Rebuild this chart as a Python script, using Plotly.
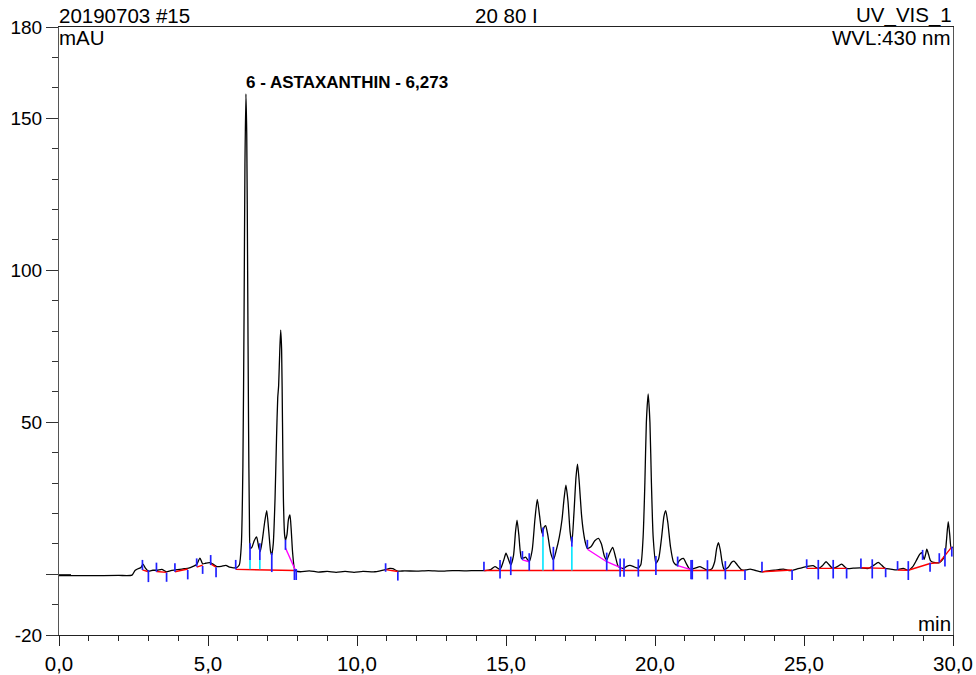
import plotly.graph_objects as go

# ---- chromatogram signal (min, mAU) ----
time_min = [0.0, 1.0, 2.0, 2.45, 2.55, 2.65, 2.75, 2.82, 2.90, 3.00, 3.15, 3.30, 3.45, 3.60, 3.75, 3.90,
            4.05, 4.20, 4.35, 4.50, 4.62, 4.73, 4.82, 4.92, 5.05, 5.15, 5.30, 5.45, 5.60, 5.72, 5.85, 5.95,
            6.05, 6.12, 6.17, 6.21, 6.24, 6.273, 6.30, 6.33, 6.36, 6.39, 6.42, 6.47, 6.55, 6.63, 6.70, 6.75,
            6.82, 6.90, 6.97, 7.04, 7.10, 7.14, 7.19, 7.25, 7.30, 7.34, 7.37, 7.41, 7.44, 7.47, 7.50, 7.53,
            7.57, 7.60, 7.65, 7.70, 7.75, 7.79, 7.84, 7.90, 7.96, 8.1, 8.4, 8.7, 9.0, 9.3, 9.6, 9.9, 10.2,
            10.6, 10.96, 11.1, 11.2, 11.37, 11.6, 12.0, 12.4, 12.8, 13.2, 13.6, 14.0, 14.3, 14.5, 14.63,
            14.80, 14.92, 15.00, 15.08, 15.16, 15.25, 15.32, 15.37, 15.43, 15.52, 15.60, 15.66, 15.78, 15.88,
            15.97, 16.05, 16.13, 16.21, 16.28, 16.33, 16.40, 16.50, 16.59, 16.69, 16.79, 16.88, 16.95, 17.01,
            17.08, 17.15, 17.21, 17.28, 17.35, 17.40, 17.46, 17.53, 17.59, 17.66, 17.73, 17.85, 17.98, 18.10,
            18.20, 18.30, 18.38, 18.48, 18.58, 18.68, 18.77, 18.94, 19.05, 19.16, 19.30, 19.42, 19.52, 19.60,
            19.66, 19.71, 19.77, 19.83, 19.88, 19.94, 20.03, 20.12, 20.22, 20.30, 20.36, 20.43, 20.52, 20.62,
            20.72, 20.82, 20.95, 21.05, 21.17, 21.35, 21.51, 21.73, 21.90, 22.00, 22.07, 22.13, 22.19, 22.26,
            22.32, 22.45, 22.58, 22.65, 22.75, 22.91, 23.05, 23.19, 23.35, 23.58, 23.80, 24.0, 24.15, 24.31,
            24.45, 24.59, 24.80, 25.09, 25.31, 25.48, 25.62, 25.74, 25.85, 25.96, 26.10, 26.26, 26.43, 26.65,
            26.88, 27.16, 27.35, 27.49, 27.60, 27.72, 27.90, 28.11, 28.33, 28.50, 28.65, 28.78, 28.88, 28.95,
            29.03, 29.08, 29.12, 29.18, 29.25, 29.40, 29.54, 29.65, 29.73, 29.78, 29.84, 29.89, 29.94, 30.0]
signal_mau = [-0.5, -0.5, -0.4, -0.3, 1.2, 1.8, 2.2, 3.3, 2.0, 1.0, 1.3, 1.3, 1.6, 0.8, 1.2, 1.4,
              1.6, 1.8, 2.0, 2.6, 3.2, 5.3, 3.4, 3.6, 3.8, 3.4, 2.5, 2.6, 2.9, 2.3, 2.1, 2.1,
              3.0, 10, 35, 85, 135, 158, 145, 100, 50, 18, 8.5, 8.8, 11, 12.3, 9, 7.4,
              11, 17, 20.9, 14, 7.5, 6.3, 10, 25, 45, 58, 62, 74, 80.3, 74, 50, 25,
              13, 11.2, 13, 18, 19.5, 15, 7, 1.8, 1.0, 0.8, 1.1, 0.7, 0.9, 0.6, 0.9, 0.6, 0.9,
              0.8, 1.5, 1.9, 1.8, 1.0, 1.1, 1.0, 1.2, 1.0, 1.2, 1.1, 1.2, 1.2, 1.6, 2.5,
              1.6, 4.5, 6.9, 5, 3.0, 6, 14, 17.8, 13, 5.2, 5.4, 5.6, 4.1, 8,
              18, 24.6, 19, 13.4, 15.5, 16.0, 13, 7, 4.7, 8, 12.3, 18, 25, 29.3,
              24, 14, 10.2, 20, 32, 36.2, 30, 20, 14.5, 10.5, 8.5, 9, 11, 11.8,
              10, 6, 4.7, 7, 8.8, 5.5, 2.5, 1.9, 2.6, 2.9, 2.4, 2.0, 3.0, 12,
              30, 50, 59.3, 50, 30, 12, 3.6, 5, 12, 19, 20.9, 17, 9, 4,
              3.0, 4.5, 5.2, 3.5, 1.6, 2.0, 2.5, 1.4, 1.7, 4, 8.5, 10.4, 8, 3.5,
              1.6, 2.2, 4.0, 4.3, 3.2, 1.4, 1.4, 1.7, 1.3, 0.8, 1.1, 1.3, 1.5, 1.7,
              1.3, 1.2, 1.8, 2.5, 2.8, 1.8, 2.8, 4.1, 3.0, 1.9, 2.4, 3.3, 1.9, 2.0,
              2.1, 1.9, 3.0, 3.9, 3.0, 1.9, 1.7, 1.4, 1.9, 1.3, 2.5, 4.7, 6.5, 7.1,
              4.9, 6.5, 8.2, 6.5, 4.4, 3.8, 3.8, 4.8, 6.3, 11, 17.3, 13, 8.5, 9.0]

# ---- integration baselines (red): polylines, each a list of (min, mAU) ----
baseline_red = [
    [(2.80, 1.4), (3.00, 0.8)],
    [(3.27, 0.9), (3.61, 0.6)],
    [(3.89, 0.8), (4.32, 1.7)],
    [(4.62, 2.3), (4.82, 3.0)],
    [(5.09, 3.4), (5.27, 2.3)],
    [(5.93, 1.6), (7.93, 1.2)],
    [(10.96, 1.5), (11.37, 0.9)],
    [(14.26, 1.2), (22.36, 1.2)],
    [(22.36, 1.2), (23.02, 1.2)],
    [(23.59, 0.8), (24.60, 1.4)],
    [(25.09, 1.9), (26.43, 1.9)],
    [(26.91, 2.1), (27.74, 1.9)],
    [(28.14, 1.4), (28.50, 1.3)],
    [(28.50, 1.3), (29.23, 3.5), (29.54, 3.8), (29.96, 9.0)],
]
# ---- tangent skims (magenta) ----
skim_magenta = [
    [(7.60, 8.6), (7.93, 1.4)],
    [(15.55, 4.7), (15.78, 4.1)],
    [(17.73, 8.2), (18.38, 4.1), (18.90, 1.9)],
    [(20.76, 2.8), (21.23, 1.4)],
]
# ---- perpendicular drops (cyan): time, top, bottom ----
drop_t = [6.41, 6.74, 16.24, 17.21]
drop_top = [4.7, 4.7, 12.3, 9.0]
drop_bot = [1.6, 1.6, 1.2, 1.2]
# ---- peak delimiter marks (blue): time, top, bottom ----
mark_t = [2.80, 3.00, 3.27, 3.61, 3.89, 4.32, 4.62, 4.82, 5.09, 5.27, 5.93, 6.41, 6.74, 7.14, 7.60, 7.90,
          7.96, 10.96, 11.37, 14.26, 14.80, 15.16, 15.55, 15.78, 16.24, 16.59, 17.21, 17.73, 18.38, 18.83,
          18.96, 19.44, 20.03, 20.76, 21.21, 21.25, 21.76, 22.36, 23.02, 23.59, 24.60, 25.09, 25.48, 25.98,
          26.43, 26.91, 27.29, 27.74, 28.14, 28.50, 28.98, 29.23, 29.54, 29.73, 29.96]
mark_top = [4.7, 1.4, 3.8, 0.5, 3.6, 1.4, 5.2, 2.7, 6.3, 2.3, 4.7, 10.2, 10.2, 7.0, 11.3, 1.7,
            1.7, 3.6, 0.8, 4.1, 4.7, 5.8, 7.6, 6.9, 15.4, 9.0, 12.3, 11.3, 7.1, 5.2,
            5.2, 4.9, 6.0, 5.8, 4.7, 4.7, 4.6, 4.3, 1.4, 4.1, 1.4, 4.9, 4.7, 4.7,
            1.9, 5.2, 4.9, 1.9, 4.3, 4.3, 8.0, 3.8, 6.9, 8.5, 9.0]
mark_bot = [1.4, -2.6, 0.8, -2.5, 0.8, -1.7, 2.5, 0.1, 3.0, -1.0, 1.6, 4.7, 4.7, 0.7, 8.0, -1.9,
            -1.9, 0.8, -2.1, 1.2, -1.4, -0.3, 4.7, 1.2, 12.3, 1.2, 9.0, 8.5, 1.2, -0.8,
            -0.8, -0.8, -0.3, 2.5, -1.7, -1.7, -1.7, -1.7, -1.9, 0.8, -1.9, 1.9, -1.7, -1.4,
            -1.4, 1.9, -1.4, -1.0, 1.4, -1.9, 4.7, 0.8, 3.8, 2.5, 5.8]

# ---- axes / labels ----
x_tickvals = [0, 5, 10, 15, 20, 25, 30]
x_ticktext = ["0,0", "5,0", "10,0", "15,0", "20,0", "25,0", "30,0"]
y_tickvals = [-20, 0, 50, 100, 150, 180]
y_ticktext = ["-20", "", "50", "100", "150", "180"]
peak_label = "6 - ASTAXANTHIN - 6,273"
peak_time = 6.273
peak_height = 158
header_left = "20190703 #15"
header_mid = "20 80 I"
header_right = "UV_VIS_1"
y_unit = "mAU"
wavelength = "WVL:430 nm"
x_unit = "min"

FONT = "Liberation Sans, Arial, sans-serif"


def polylines(lines):
    xs, ys = [], []
    for ln in lines:
        for (a, b) in ln:
            xs.append(a)
            ys.append(b)
        xs.append(None)
        ys.append(None)
    return xs, ys


def verticals(ts, tops, bots):
    xs, ys = [], []
    for t, a, b in zip(ts, tops, bots):
        xs += [t, t, None]
        ys += [a, b, None]
    return xs, ys


fig = go.Figure()

fig.add_trace(go.Scatter(x=time_min, y=signal_mau, mode="lines",
                         line=dict(color="black", width=1.3, shape="spline", smoothing=0.6),
                         showlegend=False))
rx, ry = polylines(baseline_red)
fig.add_trace(go.Scatter(x=rx, y=ry, mode="lines", line=dict(color="#ff0000", width=1.4),
                         hoverinfo="skip", showlegend=False))
mx, my = polylines(skim_magenta)
fig.add_trace(go.Scatter(x=mx, y=my, mode="lines", line=dict(color="#ff00ff", width=1.4),
                         hoverinfo="skip", showlegend=False))
cx, cy = verticals(drop_t, drop_top, drop_bot)
fig.add_trace(go.Scatter(x=cx, y=cy, mode="lines", line=dict(color="#00e5ff", width=1.6),
                         hoverinfo="skip", showlegend=False))
bx, by = verticals(mark_t, mark_top, mark_bot)
fig.add_trace(go.Scatter(x=bx, y=by, mode="lines", line=dict(color="#2020ff", width=1.7),
                         hoverinfo="skip", showlegend=False))

# zero cross-tick (inside part) via overlay axis
fig.update_layout(
    yaxis2=dict(overlaying="y", side="left", range=[-20, 180], tickmode="array", tickvals=[0],
                ticks="inside", ticklen=12, tickcolor="#333", showticklabels=False, automargin=False,
                showgrid=False, zeroline=False, showline=False, anchor="x"),
)
fig.add_trace(go.Scatter(x=[None], y=[None], yaxis="y2", showlegend=False, hoverinfo="skip"))

fig.update_layout(
    width=976, height=675,
    margin=dict(l=59, r=23, t=27, b=40, autoexpand=False),
    plot_bgcolor="white", paper_bgcolor="white",
    font=dict(family=FONT, color="black", size=18),
    xaxis=dict(range=[0, 30], tickmode="array", tickvals=x_tickvals, ticktext=x_ticktext,
               ticks="outside", ticklen=10, tickcolor="#222", showgrid=False, zeroline=False,
               showline=True, linecolor="#222", linewidth=1.3, mirror=True, automargin=False,
               minor=dict(tick0=0, dtick=1, ticks="outside", ticklen=5, tickcolor="#222"),
               tickfont=dict(size=20.5, family=FONT)),
    yaxis=dict(range=[-20, 180], tickmode="array", tickvals=y_tickvals, ticktext=y_ticktext,
               ticks="outside", ticklen=12, tickcolor="#333", showgrid=False, zeroline=False,
               showline=True, linecolor="#555", linewidth=1.2, mirror=True, automargin=False,
               minor=dict(tick0=0, dtick=10, ticks="outside", ticklen=6, tickcolor="#333"),
               tickfont=dict(size=19, family=FONT)),
    showlegend=False,
)

fig.add_annotation(x=peak_time, y=peak_height, xref="x", yref="y", text="<b>%s</b>" % peak_label,
                   showarrow=False, xanchor="left", yanchor="bottom", xshift=-2, yshift=0,
                   font=dict(size=17, family=FONT, color="black"))
HF = 20.5
fig.add_annotation(x=0, y=1, xref="paper", yref="paper", text=header_left, showarrow=False,
                   xanchor="left", yanchor="bottom", xshift=-2, yshift=-2, font=dict(size=HF))
fig.add_annotation(x=0.5, y=1, xref="paper", yref="paper", text=header_mid, showarrow=False,
                   xanchor="center", yanchor="bottom", yshift=-2, font=dict(size=HF))
fig.add_annotation(x=1, y=1, xref="paper", yref="paper", text=header_right, showarrow=False,
                   xanchor="right", yanchor="bottom", xshift=1, yshift=-2, font=dict(size=HF))
fig.add_annotation(x=0, y=1, xref="paper", yref="paper", text=y_unit, showarrow=False,
                   xanchor="left", yanchor="top", xshift=-2, yshift=3, font=dict(size=HF))
fig.add_annotation(x=1, y=1, xref="paper", yref="paper", text=wavelength, showarrow=False,
                   xanchor="right", yanchor="top", xshift=0, yshift=3, font=dict(size=HF))
fig.add_annotation(x=1, y=0, xref="paper", yref="paper", text=x_unit, showarrow=False,
                   xanchor="right", yanchor="bottom", xshift=0, yshift=-2, font=dict(size=HF))

# remove the browser's default 8px page margin so the 976x675 figure fills the window
fig.write_html("out.html", config={"displayModeBar": False},
               post_script="document.body.style.margin='0';document.body.style.overflow='hidden';")
